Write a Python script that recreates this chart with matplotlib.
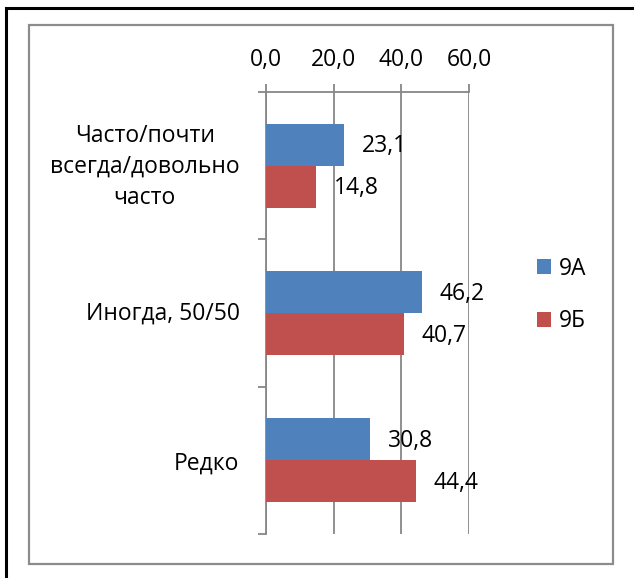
import matplotlib
matplotlib.use("Agg")
import matplotlib.pyplot as plt
from matplotlib.patches import Rectangle
from matplotlib.transforms import ScaledTranslation
import numpy as np

categories = ["Часто/почти\nвсегда/довольно\nчасто", "Иногда, 50/50", "Редко"]
series_names = ["9А", "9Б"]
values_9a = [23.1, 46.2, 30.8]
values_9b = [14.8, 40.7, 44.4]
xticks = [0, 20, 40, 60]
xtick_labels = ["0,0", "20,0", "40,0", "60,0"]

colors = ["#4F81BD", "#C0504D"]
grid_color = "#878787"
FONT = ["Open Sans", "DejaVu Sans"]
FS = 16.5

plt.rcParams['font.family'] = FONT

W, H = 634, 578
fig = plt.figure(figsize=(W / 100, H / 100), dpi=100)

def fx(px):
    return px / W

def fy(py):
    return 1 - py / H

# frames
fig.patches.append(Rectangle((fx(5.5), fy(590)), fx(640) - fx(5.5), fy(8.5) - fy(590),
                             transform=fig.transFigure, fill=False, edgecolor="black",
                             linewidth=2.2, zorder=0))
fig.patches.append(Rectangle((fx(29), fy(563.5)), fx(612.5) - fx(29), fy(25) - fy(563.5),
                             transform=fig.transFigure, fill=False, edgecolor="#8C8C8C",
                             linewidth=1.6, zorder=0))

x0, x1 = 266, 469
y0, y1 = 92, 534
ax = fig.add_axes([fx(x0), fy(y1), fx(x1) - fx(x0), fy(y0) - fy(y1)])

n = len(categories)
ypos = np.arange(n)
bh = 0.285
ax.barh(ypos - bh / 2, values_9a, height=bh, color=colors[0], label=series_names[0], zorder=3)
ax.barh(ypos + bh / 2, values_9b, height=bh, color=colors[1], label=series_names[1], zorder=3)

ax.set_xlim(0, 60)
ax.set_ylim(n - 0.5, -0.5)

for v, y in zip(values_9a, ypos - bh / 2):
    ax.annotate(f"{v:.1f}".replace(".", ","), (v, y), xytext=(12.5, -1.2), textcoords="offset points",
                va="center", ha="left", fontsize=FS, color="black", zorder=4)
for v, y in zip(values_9b, ypos + bh / 2):
    ax.annotate(f"{v:.1f}".replace(".", ","), (v, y), xytext=(12.5, -1.2), textcoords="offset points",
                va="center", ha="left", fontsize=FS, color="black", zorder=4)

ax.xaxis.tick_top()
ax.set_xticks(xticks)
ax.set_xticklabels(xtick_labels, fontsize=FS)
ax.tick_params(axis="x", which="major", direction="out", length=6, width=1.3, color=grid_color,
               pad=8.5, top=True, bottom=False)
ax.grid(axis="x", color=grid_color, linewidth=1.3, zorder=1)
ax.set_axisbelow(True)

ax.set_yticks(ypos)
ax.set_yticklabels(categories, fontsize=FS, multialignment="center", linespacing=1.38)
ax.set_yticks(np.arange(n + 1) - 0.5, minor=True)
ax.tick_params(axis="y", which="major", length=0, pad=19)
ax.tick_params(axis="y", which="minor", length=6, width=1.3, color=grid_color, direction="out")

# nudge the multi-line label up slightly
lbl = ax.get_yticklabels()[0]
lbl.set_transform(lbl.get_transform() + ScaledTranslation(0, 5 / 100, fig.dpi_scale_trans))
lbl2 = ax.get_yticklabels()[1]
lbl2.set_transform(lbl2.get_transform() + ScaledTranslation(0, 2 / 100, fig.dpi_scale_trans))

for s in ["bottom", "right"]:
    ax.spines[s].set_visible(False)
ax.spines["top"].set_color(grid_color)
ax.spines["top"].set_linewidth(1.3)
ax.spines["left"].set_color(grid_color)
ax.spines["left"].set_linewidth(1.3)

fig.legend(loc="center left", bbox_to_anchor=(fx(528), fy(295)), frameon=False,
           fontsize=FS, handlelength=0.6, handleheight=0.6, handletextpad=0.35,
           labelspacing=1.25, borderaxespad=0)

fig.savefig("out.png", dpi=100, facecolor="white")
